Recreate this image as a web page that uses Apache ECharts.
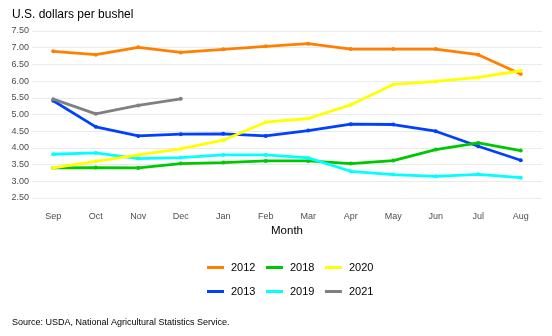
<!DOCTYPE html>
<html><head><meta charset="utf-8">
<script src="https://cdn.jsdelivr.net/npm/echarts@6/dist/echarts.min.js"></script>
<style>html,body{margin:0;padding:0;background:#fff}#c{width:552px;height:336px}</style>
</head><body><div id="c"></div>
<script>
const months = ['Sep','Oct','Nov','Dec','Jan','Feb','Mar','Apr','May','Jun','Jul','Aug'];
const yTicks = [2.5, 7.5, 0.5]; // min, max, interval
const y2012 = [6.89, 6.79, 7.01, 6.86, 6.95, 7.04, 7.12, 6.96, 6.96, 6.96, 6.79, 6.21];
const y2013 = [5.41, 4.63, 4.36, 4.41, 4.42, 4.36, 4.52, 4.71, 4.70, 4.50, 4.05, 3.63];
const y2018 = [3.40, 3.41, 3.40, 3.53, 3.56, 3.61, 3.61, 3.53, 3.62, 3.95, 4.15, 3.92];
const y2019 = [3.81, 3.85, 3.68, 3.71, 3.79, 3.79, 3.70, 3.30, 3.20, 3.15, 3.21, 3.11];
const y2020 = [3.40, 3.60, 3.79, 3.97, 4.23, 4.77, 4.88, 5.29, 5.90, 5.99, 6.11, 6.31];
const y2021 = [5.46, 5.02, 5.27, 5.47];
const seriesNames = ['2012','2013','2018','2019','2020','2021'];
const seriesData = [y2012, y2013, y2018, y2019, y2020, y2021];
const colors = ['#FF7F00','#0040FF','#00C800','#00FFFF','#FFFF00','#808080'];

const chart = echarts.init(document.getElementById('c'), null, {renderer:'canvas'});
const FONT = 'Liberation Sans, Arial, sans-serif';
const legendBase = {left: 207, padding: 0, itemWidth: 17, itemHeight: 3, itemGap: 10.5, icon: 'rect',
  textStyle:{fontFamily:FONT, fontSize:11, color:'#000', padding:[0,0,0,2]}};
chart.setOption({
  animation: false,
  backgroundColor: '#fff',
  title: [
    {text: 'U.S. dollars per bushel', left: 7, top: 4, textStyle:{fontFamily:FONT, fontSize:12, fontWeight:'normal', color:'#000'}},
    {text: 'Source: USDA, National Agricultural Statistics Service.', left: 7, top: 313, textStyle:{fontFamily:FONT, fontSize:9, fontWeight:'normal', color:'#000'}}
  ],
  grid: {left: 32, right: 10, top: 31, bottom: 138, containLabel: false},
  legend: [
    Object.assign({data: ['2012','2018','2020'], top: 262}, legendBase),
    Object.assign({data: ['2013','2019','2021'], top: 286}, legendBase)
  ],
  xAxis: {
    type: 'category', data: months, boundaryGap: true,
    name: 'Month', nameLocation: 'middle', nameGap: 27,
    nameTextStyle: {fontFamily:FONT, fontSize:11.5, color:'#000'},
    axisLine: {show:false}, axisTick: {show:false},
    axisLabel: {fontFamily:FONT, fontSize:9, color:'#4d4d4d', margin: 14},
    splitLine: {show:false}
  },
  yAxis: {
    type: 'value', min: yTicks[0], max: yTicks[1], interval: yTicks[2],
    axisLine: {show:false}, axisTick: {show:false},
    axisLabel: {fontFamily:FONT, fontSize:9, color:'#4d4d4d', margin: 3, formatter: v => v.toFixed(2)},
    splitLine: {show:true, lineStyle:{color:'#ebebeb', width:1}}
  },
  series: seriesNames.map((n,i) => ({
    name: n, type: 'line', data: seriesData[i],
    color: colors[i],
    symbol: 'circle', symbolSize: 4, showSymbol: true,
    lineStyle: {width: 2.8, color: colors[i]},
    itemStyle: {color: colors[i]},
    z: 2 + i
  }))
});
</script></body></html>
